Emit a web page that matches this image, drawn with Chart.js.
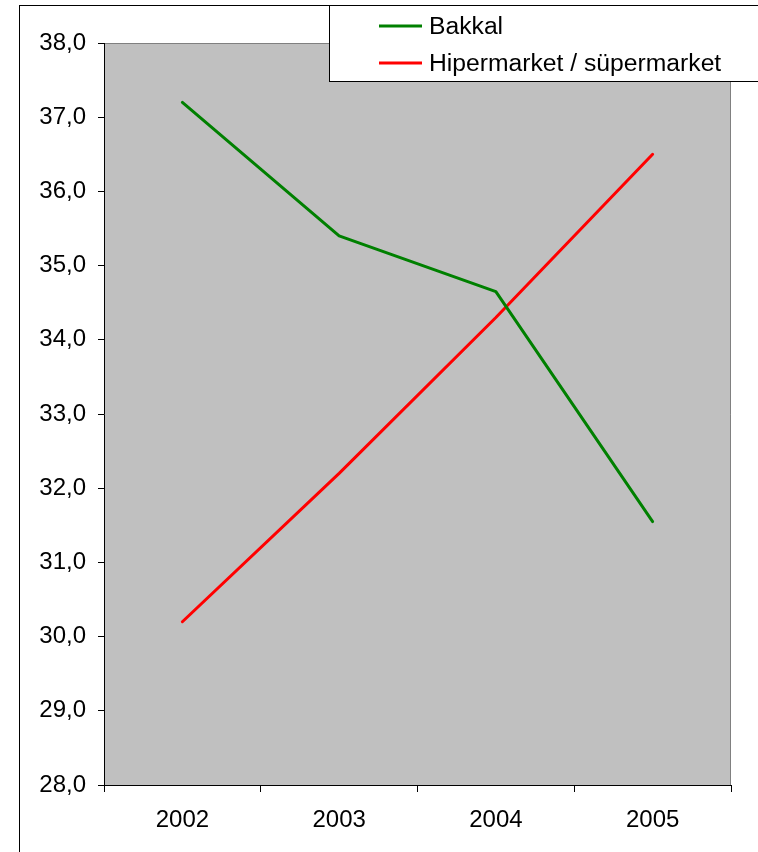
<!DOCTYPE html>
<html>
<head>
<meta charset="utf-8">
<script src="https://cdn.jsdelivr.net/npm/chart.js@4/dist/chart.umd.min.js"></script>
<style>
  html, body { margin: 0; padding: 0; background: #fff; }
  #wrap { width: 758px; height: 852px; }
</style>
</head>
<body>
<div id="wrap"><canvas id="c" width="758" height="852"></canvas></div>
<script>
// Years on the horizontal axis
const years = ['2002', '2003', '2004', '2005'];
// Market share by store type (%)
const bakkal = [37.2, 35.4, 34.65, 31.55];
const hipermarket = [30.2, 32.2, 34.3, 36.5];
// Series names and colours
const seriesNames = ['Bakkal', 'Hipermarket / süpermarket'];
const seriesColors = ['#008000', '#FF0000'];
// Value axis range
const yMin = 28, yMax = 38, yStep = 1;

const FONT = '"Liberation Sans", Arial, Helvetica, sans-serif';

// Frame, plot background and legend box
const framePlugin = {
  id: 'frame',
  beforeDraw(chart) {
    const { ctx, chartArea: a } = chart;
    ctx.save();
    ctx.fillStyle = '#fff';
    ctx.fillRect(0, 0, chart.width, chart.height);
    // outer chart border
    ctx.strokeStyle = '#000';
    ctx.lineWidth = 1;
    ctx.strokeRect(19.5, 5.5, chart.width + 10, chart.height + 10);
    // plot background
    ctx.fillStyle = '#C0C0C0';
    ctx.fillRect(a.left, a.top, a.right - a.left, a.bottom - a.top);
    // top and right plot edges
    ctx.strokeStyle = '#808080';
    ctx.beginPath();
    ctx.moveTo(a.left, a.top + 0.5);
    ctx.lineTo(a.right - 0.5, a.top + 0.5);
    ctx.lineTo(a.right - 0.5, a.bottom);
    ctx.stroke();
    ctx.restore();
  },
  afterDraw(chart) {
    const { ctx } = chart;
    ctx.save();
    // legend box
    ctx.fillStyle = '#fff';
    ctx.fillRect(329, 5, chart.width, 77);
    ctx.strokeStyle = '#000';
    ctx.lineWidth = 1;
    ctx.strokeRect(329.5, 5.5, chart.width, 76);
    const rows = [26, 63];
    chart.data.datasets.forEach((ds, i) => {
      const y = rows[i];
      ctx.strokeStyle = ds.borderColor;
      ctx.lineWidth = 3;
      ctx.beginPath();
      ctx.moveTo(379, y);
      ctx.lineTo(422, y);
      ctx.stroke();
      ctx.fillStyle = '#000';
      ctx.font = '24.7px ' + FONT;
      ctx.textBaseline = 'middle';
      ctx.textAlign = 'left';
      ctx.fillText(ds.label, 429, y + 1);
    });
    ctx.restore();
  }
};

new Chart(document.getElementById('c'), {
  type: 'line',
  data: {
    labels: years,
    datasets: [
      { label: seriesNames[0], data: bakkal, borderColor: seriesColors[0], backgroundColor: seriesColors[0] },
      { label: seriesNames[1], data: hipermarket, borderColor: seriesColors[1], backgroundColor: seriesColors[1] }
    ]
  },
  options: {
    responsive: false,
    animation: false,
    devicePixelRatio: 1,
    layout: { padding: { left: 0, right: 27, top: 43, bottom: 0 } },
    elements: {
      line: { borderWidth: 3, tension: 0, borderCapStyle: 'round', borderJoinStyle: 'round' },
      point: { radius: 0, hoverRadius: 0 }
    },
    plugins: { legend: { display: false }, tooltip: { enabled: false } },
    scales: {
      x: {
        type: 'category',
        offset: true,
        afterFit(scale) { scale.height = 67; },
        grid: { offset: true, drawOnChartArea: false, drawTicks: true, tickLength: 7, color: '#000', lineWidth: 1 },
        border: { color: '#000', width: 1 },
        ticks: { color: '#000', font: { family: FONT, size: 24 }, padding: 14, maxRotation: 0 }
      },
      y: {
        min: yMin,
        max: yMax,
        afterFit(scale) { scale.width = 104; },
        grid: { drawOnChartArea: false, drawTicks: true, tickLength: 6, color: '#000', lineWidth: 1 },
        border: { color: '#000', width: 1 },
        ticks: {
          stepSize: yStep,
          color: '#000',
          font: { family: FONT, size: 24 },
          padding: 12,
          callback: v => v.toFixed(1).replace('.', ',')
        }
      }
    }
  },
  plugins: [framePlugin]
});
</script>
</body>
</html>
